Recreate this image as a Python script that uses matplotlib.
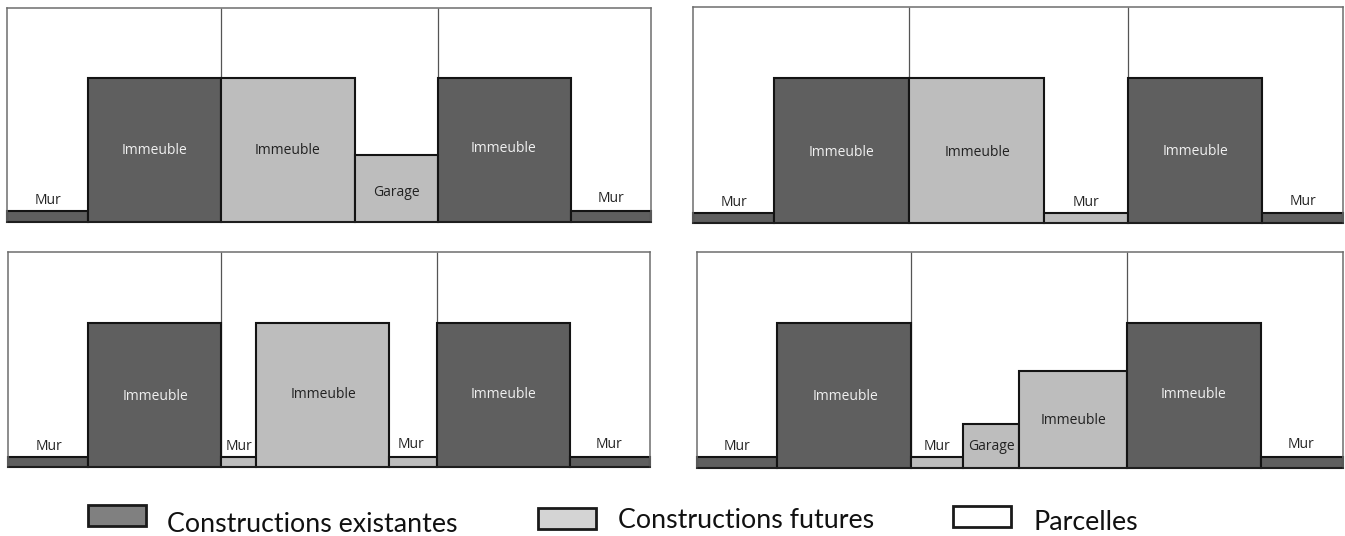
import matplotlib
matplotlib.use('Agg')
import matplotlib.pyplot as plt
from matplotlib.patches import Rectangle

W, H = 1345, 536
DARK = '#5f5f5f'
LIGHT = '#bdbdbd'

# panel frames in pixels: left, right, top, bottom
frames = [(7, 651, 8, 222), (693, 1343, 7, 223), (8, 650, 252, 467), (697, 1343, 252, 468)]

# inner parcel limits, from the left edge of each panel
limits_1 = [214, 431]
limits_2 = [216, 435]
limits_3 = [213, 429]
limits_4 = [214, 430]

# blocks: left, width, height (px above the ground), 'e' existing / 'f' future
blocks_1 = [(0, 81, 11, 'e'), (81, 133, 144, 'e'), (214, 134, 144, 'f'), (348, 83, 67, 'f'),
            (431, 133, 144, 'e'), (564, 80, 11, 'e')]
blocks_2 = [(0, 81, 10, 'e'), (81, 135, 145, 'e'), (216, 135, 145, 'f'), (351, 84, 10, 'f'),
            (435, 134, 145, 'e'), (569, 81, 10, 'e')]
blocks_3 = [(0, 80, 10, 'e'), (80, 133, 144, 'e'), (213, 35, 10, 'f'), (248, 133, 144, 'f'),
            (381, 48, 10, 'f'), (429, 133, 144, 'e'), (562, 80, 10, 'e')]
blocks_4 = [(0, 80, 11, 'e'), (80, 134, 145, 'e'), (214, 52, 11, 'f'), (266, 56, 44, 'f'),
            (322, 108, 97, 'f'), (430, 134, 145, 'e'), (564, 82, 11, 'e')]

# labels: x, y above the ground, text, colour
labels_1 = [(41, 21, 'Mur', 'k'), (148, 71, 'Immeuble', 'w'), (281, 71, 'Immeuble', 'k'),
            (389, 30, 'Garage', 'k'), (497, 73, 'Immeuble', 'w'), (604, 23, 'Mur', 'k')]
labels_2 = [(41, 21, 'Mur', 'k'), (149, 71, 'Immeuble', 'w'), (284, 71, 'Immeuble', 'k'),
            (393, 21, 'Mur', 'k'), (502, 72, 'Immeuble', 'w'), (610, 22, 'Mur', 'k')]
labels_3 = [(41, 20, 'Mur', 'k'), (147, 70, 'Immeuble', 'w'), (231, 20, 'Mur', 'k'),
            (315, 72, 'Immeuble', 'k'), (403, 22, 'Mur', 'k'), (495, 72, 'Immeuble', 'w'),
            (601, 22, 'Mur', 'k')]
labels_4 = [(40, 21, 'Mur', 'k'), (148, 71, 'Immeuble', 'w'), (240, 21, 'Mur', 'k'),
            (294, 21, 'Garage', 'k'), (376, 48, 'Immeuble', 'k'), (497, 73, 'Immeuble', 'w'),
            (604, 23, 'Mur', 'k')]

limits = [limits_1, limits_2, limits_3, limits_4]
blocks = [blocks_1, blocks_2, blocks_3, blocks_4]
labels = [labels_1, labels_2, labels_3, labels_4]

# legend
legend_names = ['Constructions existantes', 'Constructions futures', 'Parcelles']
legend_fill = ['#808080', '#d4d4d4', 'white']
legend_box = [(88, 505), (538, 508), (953, 506)]
legend_text = [(167, 524), (618, 520), (1033, 523)]

fig = plt.figure(figsize=(W / 100, H / 100), dpi=100)

for frame, lim, blk, lab in zip(frames, limits, blocks, labels):
    left, right, top, bottom = frame
    ax = fig.add_axes([left / W, 1 - bottom / H, (right - left) / W, (bottom - top) / H])
    ax.set_xlim(0, right - left)
    ax.set_ylim(0, bottom - top)
    ax.set_xticks([])
    ax.set_yticks([])
    for s in ax.spines.values():
        s.set_color('#6e6e6e')
        s.set_linewidth(1.1)
    ax.spines['bottom'].set_color('#222222')
    ax.vlines(lim, 0, bottom - top, color='#555555', lw=0.9, zorder=1)
    for x, w, h, kind in blk:
        ax.bar(x, h, w, align='edge', color=DARK if kind == 'e' else LIGHT,
               edgecolor='#141414', linewidth=1.5, zorder=2, clip_on=False)
    for x, y, t, c in lab:
        ax.text(x, y, t, color='#f0f0f0' if c == 'w' else '#222222', fontsize=10,
                family='Open Sans', ha='center', va='center', zorder=3)

# legend drawn on a full figure overlay
over = fig.add_axes([0, 0, 1, 1])
over.set_xlim(0, W)
over.set_ylim(H, 0)
over.axis('off')
for (x, y), fill, (tx, ty), name in zip(legend_box, legend_fill, legend_text, legend_names):
    over.add_patch(Rectangle((x, y), 58, 21, facecolor=fill, edgecolor='#1a1a1a', linewidth=2))
    over.text(tx, ty, name, fontsize=19.3, family='Lato', color='#111111', va='center')

fig.savefig('out.png', dpi=100)
